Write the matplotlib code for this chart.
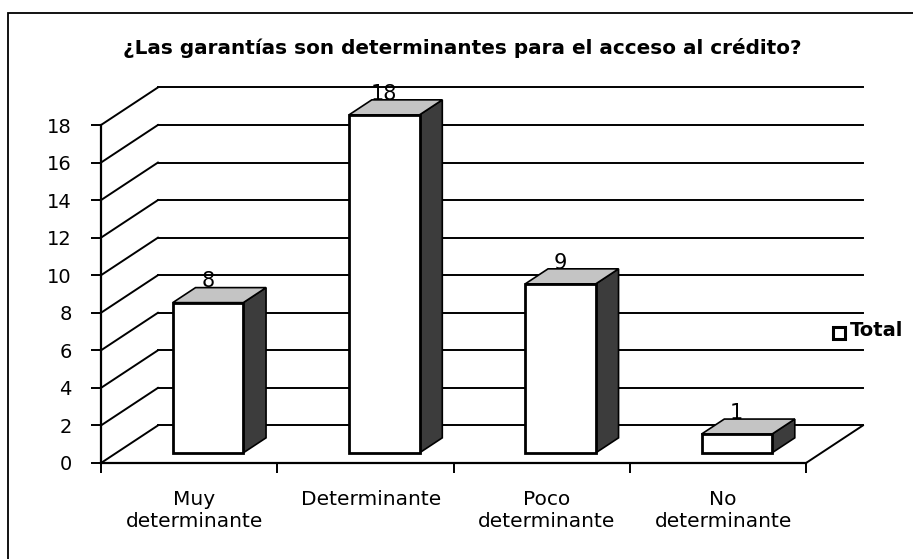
import matplotlib.pyplot as plt
from matplotlib.patches import Polygon, Rectangle

categories = ["Muy\ndeterminante", "Determinante", "Poco\ndeterminante", "No\ndeterminante"]
values = [8, 18, 9, 1]
yticks = [0, 2, 4, 6, 8, 10, 12, 14, 16, 18]
title = "¿Las garantías son determinantes para el acceso al crédito?"
legend_label = "Total"

FONT = "DejaVu Sans"

# depth of the 3d box in data units (x: categories, y: value)
DX, DY = 0.323, 2.0
# bars sit between these fractions of the depth
F0, F1 = 0.27, 0.67
BAR_W = 0.40


def main():
    fig = plt.figure(figsize=(9.13, 5.59), dpi=100)
    W, H = 913, 559
    ax = fig.add_axes([101 / W, 96 / H, 705 / W, 338 / H])
    ax.set_xlim(-0.5, 3.5)
    ax.set_ylim(0, 18)

    # outer frame
    fig.patches.append(Rectangle((8 / W, -0.01), 1.0, (559 - 13) / H + 0.01,
                                 transform=fig.transFigure, fill=False,
                                 edgecolor="black", linewidth=1.3))

    # front axes
    for s in ["top", "right"]:
        ax.spines[s].set_visible(False)
    for s in ["left", "bottom"]:
        ax.spines[s].set_linewidth(1.6)
    ax.set_yticks(yticks)
    ax.set_yticklabels([str(t) for t in yticks], fontfamily=FONT, fontsize=14)
    ax.set_xticks([-0.5, 0.5, 1.5, 2.5, 3.5])
    ax.set_xticklabels([])
    ax.tick_params(axis="both", direction="out", length=7, width=1.4)
    ax.tick_params(axis="y", pad=14)
    ax.patch.set_alpha(0)

    # side wall diagonals and back wall lines
    for v in yticks:
        ax.plot([-0.5, -0.5 + DX], [v, v + DY], color="black", lw=1.4,
                clip_on=False, zorder=1)
        ax.plot([-0.5 + DX, 3.5 + DX], [v + DY, v + DY], color="black",
                lw=1.4, clip_on=False, zorder=1)
    ax.plot([3.5, 3.5 + DX], [0, DY], color="black", lw=1.4, clip_on=False,
            zorder=1)

    a, b = F0 * DX, F0 * DY
    c, d = F1 * DX, F1 * DY
    for i, v in enumerate(values):
        x0 = i + 0.02 - BAR_W / 2
        x1 = x0 + BAR_W
        side = Polygon([(x1 + a, b), (x1 + c, d), (x1 + c, v + d), (x1 + a, v + b)],
                       closed=True, facecolor="#3c3c3c", edgecolor="black",
                       lw=1.2, clip_on=False, zorder=3)
        top = Polygon([(x0 + a, v + b), (x1 + a, v + b), (x1 + c, v + d), (x0 + c, v + d)],
                      closed=True, facecolor="#c4c4c4", edgecolor="black",
                      lw=1.2, clip_on=False, zorder=3)
        front = Polygon([(x0 + a, b), (x1 + a, b), (x1 + a, v + b), (x0 + a, v + b)],
                        closed=True, facecolor="white", edgecolor="black",
                        lw=2.0, clip_on=False, zorder=4)
        for p in (side, top, front):
            ax.add_patch(p)
        ax.text((x0 + x1) / 2 + a, v + d - 0.2, str(v), ha="center", va="bottom",
                fontfamily=FONT, fontsize=15, zorder=5)

    # category labels
    for i, lab in enumerate(categories):
        ax.text(i + 0.03, -1.45, lab, ha="center", va="top", fontfamily=FONT,
                fontsize=14.5, linespacing=1.2, clip_on=False)

    # legend
    fig.patches.append(Rectangle((833 / W, (559 - 339) / H), 12 / W, 12 / H,
                                 transform=fig.transFigure, facecolor="white",
                                 edgecolor="black", linewidth=2.2))
    fig.text(850 / W, (559 - 331) / H, legend_label, ha="left", va="center",
             fontfamily=FONT, fontsize=14, fontweight="bold")

    fig.text(462 / W, (559 - 48) / H, title, ha="center", va="center",
             fontfamily=FONT, fontsize=14.4, fontweight="bold")

    fig.savefig("out.png", dpi=100)


if __name__ == "__main__":
    main()
